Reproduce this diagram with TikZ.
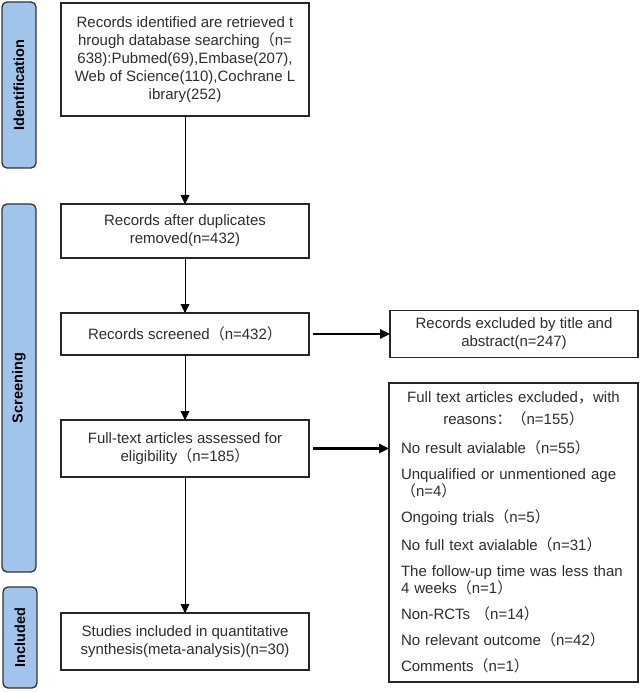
\documentclass[tikz,border=0pt]{standalone}
\usepackage{fontspec}
\setmainfont{Liberation Sans}
\newfontfamily\cjk{Noto Sans CJK SC}
\usetikzlibrary{arrows.meta,positioning}

\definecolor{bandblue}{RGB}{160,196,234}
\definecolor{inkgray}{RGB}{45,45,45}
\newcommand{\fwl}{{\cjk （}}
\newcommand{\fwr}{{\cjk ）}}
\newcommand{\fwcomma}{{\cjk ，}}
\newcommand{\fwcolon}{{\cjk ：}}

\begin{document}
\begin{tikzpicture}[x=1pt,y=1pt,>={Triangle[length=9pt,width=9pt]},font=\fontsize{15}{18}\selectfont]
  \tikzstyle{box}=[draw=black!85,line width=1.3pt,fill=white,text=inkgray,minimum width=248pt,align=center,inner sep=3pt,outer sep=0pt]
  \tikzstyle{band}=[draw=black!80,line width=1.3pt,fill=bandblue,rounded corners=5pt,rotate=90,minimum height=34pt,outer sep=0pt,font=\fontsize{14.5}{17}\selectfont\bfseries]
  \tikzstyle{down}=[->,line width=0.9pt]
  \tikzstyle{side}=[-{Triangle[length=10pt,width=9pt]},line width=2.4pt,shorten <=4pt]

  \useasboundingbox (0,0) rectangle (641,-692);

  \node[band,minimum width=166pt] (ident)  at (19,-85)    {Identification};
  \node[band,minimum width=368pt] (screen) at (19,-388)   {Screening};
  \node[band,minimum width=101pt] (incl)   at (20,-637.5) {Included};

  \node[box,minimum height=113pt] (found) at (185,-59.5)
    {Records identified are retrieved t\\hrough database searching\fwl n=\\638):Pubmed(69),Embase(207),\\Web of Science(110),Cochrane L\\ibrary(252)};
  \node[box,minimum height=54pt]  (dedup)    [below=88pt of found]     {Records after duplicates\\removed(n=432)};
  \node[box,minimum height=42pt]  (screened) [below=55pt of dedup]     {Records screened\fwl n=432\fwr};
  \node[box,minimum height=57pt]  (fulltext) [below=65pt of screened]  {Full-text articles assessed for\\eligibility\fwl n=185\fwr};
  \node[box,minimum height=57pt]  (included) [below=136pt of fulltext] {Studies included in quantitative\\synthesis(meta-analysis)(n=30)};
  \node[box,minimum height=47pt]  (byTitle)  [right=81pt of screened]  {Records excluded by title and\\abstract(n=247)};
  \node[box,minimum height=299pt,text width=225pt,inner xsep=12pt,align=left,font=\fontsize{15}{15}\selectfont]
    (reasons) at (389,-383) [anchor=north west]
    {{\centering Full text articles excluded\fwcomma with\\[7pt]
      reasons\fwcolon\fwl n=155\fwr\par}
     \vspace{14pt}
     No result avialable\fwl n=55\fwr\\[11pt]
     Unqualified or unmentioned age\\\fwl n=4\fwr\\[11pt]
     Ongoing trials\fwl n=5\fwr\\[11pt]
     No full text avialable\fwl n=31\fwr\\[11pt]
     The follow-up time was less than\\4 weeks\fwl n=1\fwr\\[11pt]
     Non-RCTs \fwl n=14\fwr\\[11pt]
     No relevant outcome\fwl n=42\fwr\\[11pt]
     Comments\fwl n=1\fwr};

  \draw[down] (found) -- (dedup);
  \draw[down] (dedup) -- (screened);
  \draw[down] (screened) -- (fulltext);
  \draw[down] (fulltext) -- (included);
  \draw[side] (screened) -- (byTitle);
  \draw[side] (fulltext.east) -- (fulltext.east -| reasons.west);
\end{tikzpicture}
\end{document}
